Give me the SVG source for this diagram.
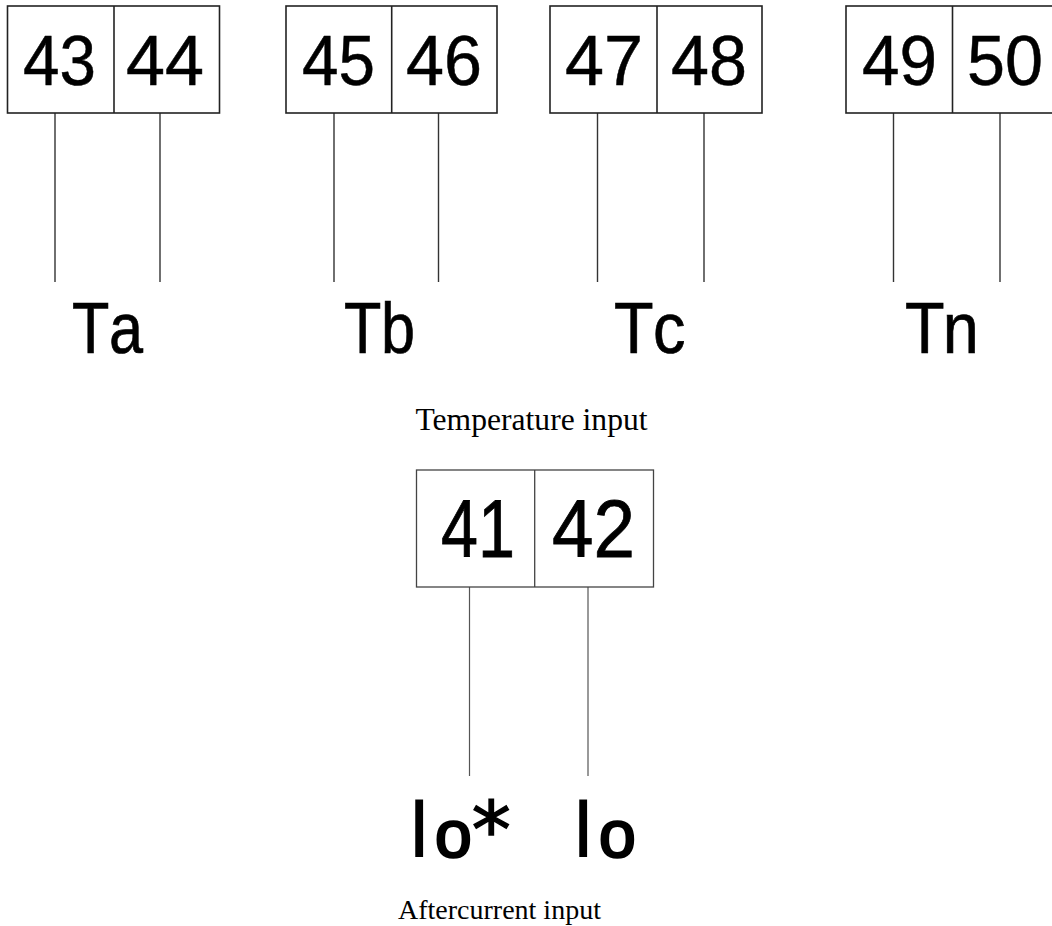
<svg xmlns="http://www.w3.org/2000/svg" width="1052" height="926" viewBox="0 0 1052 926">
<style>
.box{fill:#fff;stroke:#222;stroke-width:1.6}
.boxl{fill:#fff;stroke:#444;stroke-width:1.3}
.wire{stroke:#333;stroke-width:1.4;fill:none}
.wirel{stroke:#555;stroke-width:1.2;fill:none}
.num{font-family:"Liberation Sans",Arial,sans-serif;font-size:71px;fill:#000;stroke:#000;stroke-width:.5}
.numl{font-family:"Liberation Sans",Arial,sans-serif;font-size:81px;fill:#000;stroke:#000;stroke-width:.8}
.lab{font-family:"Liberation Sans",Arial,sans-serif;font-size:72px;fill:#000;stroke:#000;stroke-width:.7;font-kerning:none}
.labl{font-family:"Liberation Sans",Arial,sans-serif;font-size:84px;fill:#000}
.o{font-size:66px;stroke:#000;stroke-width:2.5}
.star{font-family:"DejaVu Sans",sans-serif;font-size:78px;stroke:#000;stroke-width:1.5}
.cap{font-family:"Liberation Serif","Times New Roman",serif;font-size:28px;fill:#000}
</style>
<rect width="1052" height="926" fill="#fff"/>
<g id="connectors">
<line class="wire" x1="55" y1="113" x2="55" y2="282"/>
<line class="wire" x1="160" y1="113" x2="160" y2="282"/>
<line class="wire" x1="334" y1="113" x2="334" y2="282"/>
<line class="wire" x1="438.5" y1="113" x2="438.5" y2="282"/>
<line class="wire" x1="597.5" y1="113" x2="597.5" y2="282"/>
<line class="wire" x1="704" y1="113" x2="704" y2="282"/>
<line class="wire" x1="893.5" y1="113" x2="893.5" y2="282"/>
<line class="wire" x1="1000" y1="113" x2="1000" y2="282"/>
<line class="wirel" x1="469.5" y1="587" x2="469.5" y2="776"/>
<line class="wirel" x1="588" y1="587" x2="588" y2="776"/>
</g>
<g id="terminal-43-44">
<rect class="box" x="7.5" y="6" width="212" height="107"/>
<line class="box" x1="114" y1="6" x2="114" y2="113"/>
<text class="num" x="23" y="85" textLength="73" lengthAdjust="spacingAndGlyphs">43</text>
<text class="num" x="126" y="85" textLength="78" lengthAdjust="spacingAndGlyphs">44</text>
</g>
<g id="terminal-45-46">
<rect class="box" x="286" y="6" width="211" height="107"/>
<line class="box" x1="391.7" y1="6" x2="391.7" y2="113"/>
<text class="num" x="302" y="85" textLength="73" lengthAdjust="spacingAndGlyphs">45</text>
<text class="num" x="406" y="85" textLength="76" lengthAdjust="spacingAndGlyphs">46</text>
</g>
<g id="terminal-47-48">
<rect class="box" x="550" y="6" width="212" height="107"/>
<line class="box" x1="657" y1="6" x2="657" y2="113"/>
<text class="num" x="565" y="85" textLength="78" lengthAdjust="spacingAndGlyphs">47</text>
<text class="num" x="671" y="85" textLength="76" lengthAdjust="spacingAndGlyphs">48</text>
</g>
<g id="terminal-49-50">
<rect class="box" x="846" y="6" width="212" height="107"/>
<line class="box" x1="952.5" y1="6" x2="952.5" y2="113"/>
<text class="num" x="862" y="85" textLength="75" lengthAdjust="spacingAndGlyphs">49</text>
<text class="num" x="967" y="85" textLength="76" lengthAdjust="spacingAndGlyphs">50</text>
</g>
<g id="label-Ta"><text class="lab" transform="translate(72 353) scale(.85 1)" letter-spacing="-.5">Ta</text></g>
<g id="label-Tb"><text class="lab" transform="translate(344 353) scale(.85 1)" letter-spacing="-.5">Tb</text></g>
<g id="label-Tc"><text class="lab" transform="translate(614 353) scale(.9 1)" letter-spacing="-.7">Tc</text></g>
<g id="label-Tn"><text class="lab" transform="translate(905 353) scale(.9 1)" letter-spacing="-2">Tn</text></g>
<g id="caption-temperature"><text class="cap" x="415.5" y="429.5" style="font-size:31.6px">Temperature input</text></g>
<g id="terminal-41-42">
<rect class="boxl" x="416.5" y="470" width="237" height="117"/>
<line class="boxl" x1="534.7" y1="470" x2="534.7" y2="587"/>
<text class="numl" x="441" y="556.5" textLength="74" lengthAdjust="spacingAndGlyphs">41</text>
<text class="numl" x="552" y="556.5" textLength="83" lengthAdjust="spacingAndGlyphs">42</text>
</g>
<g id="label-Io-star"><text class="labl" y="857"><tspan x="407.5">I</tspan><tspan class="o" x="435">o</tspan><tspan class="star" x="471.7">*</tspan></text></g>
<g id="label-Io"><text class="labl" y="857"><tspan x="571.5">I</tspan><tspan class="o" x="599">o</tspan></text></g>
<g id="caption-aftercurrent"><text class="cap" x="398" y="919">Aftercurrent input</text></g>
</svg>
